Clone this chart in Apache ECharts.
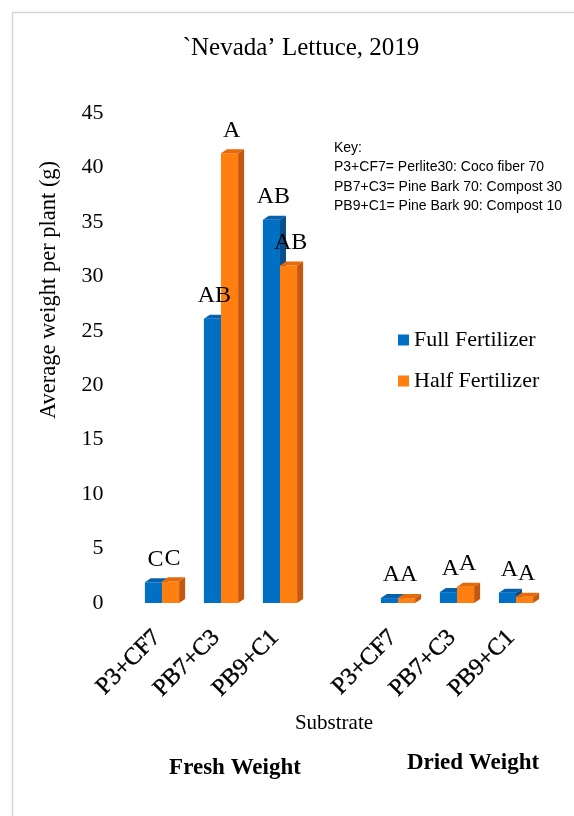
<!DOCTYPE html>
<html>
<head>
<meta charset="utf-8">
<script src="https://cdn.jsdelivr.net/npm/echarts@6/dist/echarts.min.js"></script>
<style>
html,body{margin:0;padding:0;background:#fff;}
#chart{width:574px;height:816px;}
</style>
</head>
<body>
<div id="chart"></div>
<script>
// ---- data ----
const categories = ['P3+CF7', 'PB7+C3', 'PB9+C1', '', 'P3+CF7', 'PB7+C3', 'PB9+C1'];
const fullValues = [1.9, 26.1, 35.2, null, 0.45, 1.0, 0.95];
const halfValues = [2.0, 41.3, 31.0, null, 0.45, 1.5, 0.58];
const fullLetters = ['C', 'AB', 'AB', '', 'A', 'A', 'A'];
const halfLetters = ['C', 'A', 'AB', '', 'A', 'A', 'A'];
const yTicks = [0, 5, 10, 15, 20, 25, 30, 35, 40, 45];
const seriesNames = ['Full Fertilizer', 'Half Fertilizer'];
const keyLines = ['Key:', 'P3+CF7= Perlite30: Coco fiber 70', 'PB7+C3= Pine Bark 70: Compost 30', 'PB9+C1= Pine Bark 90: Compost 10'];

const SERIF = '"Liberation Serif","Times New Roman",serif';
const colors = [
  {front: '#0070C4', top: '#0560AE', side: '#0A4F8C'},
  {front: '#FF7F10', top: '#E8690A', side: '#C45810'}
];
const DX = 6, DY = 4;

function barGeom(si, api) {
  const cat = api.value(0), val = api.value(1);
  const base = api.coord([cat, 0]);
  const top = api.coord([cat, val]);
  const band = api.size([1, 0])[0];
  const w = band * 0.29;
  const x0 = si === 0 ? base[0] - w : base[0];
  return {cat: cat, x0: x0, w: w, yt: top[1], yb: base[1]};
}

function makeBars(si) {
  return function (params, api) {
    const g = barGeom(si, api);
    const c = colors[si];
    const x0 = g.x0, w = g.w, yt = g.yt, yb = g.yb;
    return {
      type: 'group',
      children: [
        {type: 'rect', shape: {x: x0, y: yt, width: w, height: yb - yt}, style: {fill: c.front}},
        {type: 'polygon', shape: {points: [[x0, yt], [x0 + DX, yt - DY], [x0 + w + DX, yt - DY], [x0 + w, yt]]}, style: {fill: c.top}},
        {type: 'polygon', shape: {points: [[x0 + w, yt], [x0 + w + DX, yt - DY], [x0 + w + DX, yb - DY], [x0 + w, yb]]}, style: {fill: c.side}}
      ]
    };
  };
}

function makeLabels(si, letters) {
  return function (params, api) {
    const g = barGeom(si, api);
    return {
      type: 'text', x: g.x0 + g.w / 2 + 2, y: g.yt - 23,
      style: {text: letters[g.cat], font: '24px ' + SERIF, fill: '#000', align: 'center', verticalAlign: 'middle'}
    };
  };
}

function toData(vals) {
  const d = [];
  vals.forEach((v, i) => { if (v != null) d.push([i, v]); });
  return d;
}

const chart = echarts.init(document.getElementById('chart'), null, {renderer: 'canvas'});
chart.setOption({
  animation: false,
  backgroundColor: '#fff',
  grid: {left: 132.5, right: 28.5, top: 113, bottom: 213},
  xAxis: {
    type: 'category',
    data: categories,
    axisLine: {show: false},
    axisTick: {show: false},
    axisLabel: {interval: 0, rotate: 45, margin: 26, padding: [0, 7, 0, 0], fontFamily: SERIF, fontSize: 24, color: '#000',
      textBorderColor: '#000', textBorderWidth: 0.4}
  },
  yAxis: {
    type: 'value',
    min: 0, max: 45, interval: 5,
    splitLine: {show: false},
    axisLine: {show: false},
    axisTick: {show: false},
    axisLabel: {margin: 29, fontFamily: SERIF, fontSize: 22, color: '#000',
      formatter: v => (yTicks.indexOf(v) >= 0 ? String(v) : '')}
  },
  legend: {
    orient: 'vertical',
    left: 398, top: 329, padding: 0,
    icon: 'rect', itemWidth: 11, itemHeight: 11, itemGap: 19,
    textStyle: {fontFamily: SERIF, fontSize: 22, lineHeight: 22, color: '#000'},
    data: [
      {name: seriesNames[0], itemStyle: {color: colors[0].front}},
      {name: seriesNames[1], itemStyle: {color: colors[1].front}}
    ]
  },
  series: [
    {type: 'custom', name: seriesNames[0], renderItem: makeBars(0), data: toData(fullValues), itemStyle: {color: colors[0].front}, z: 2},
    {type: 'custom', name: seriesNames[1], renderItem: makeBars(1), data: toData(halfValues), itemStyle: {color: colors[1].front}, z: 3},
    {type: 'custom', name: 'fullLetters', renderItem: makeLabels(0, fullLetters), data: toData(fullValues), z: 6, silent: true},
    {type: 'custom', name: 'halfLetters', renderItem: makeLabels(1, halfLetters), data: toData(halfValues), z: 6, silent: true}
  ],
  graphic: [
    {type: 'polyline', shape: {points: [[12.5, 900], [12.5, 12.5], [700, 12.5]]}, style: {stroke: '#d6d6d6', lineWidth: 1.6, fill: null}, silent: true},
    {type: 'text', x: 301, y: 48, style: {text: '`Nevada\u2019 Lettuce, 2019', font: '25px ' + SERIF, fill: '#000', align: 'center', verticalAlign: 'middle'}},
    {type: 'text', x: 49, y: 290, rotation: Math.PI / 2, style: {text: 'Average weight per plant (g)', font: '22.5px ' + SERIF, fill: '#000', align: 'center', verticalAlign: 'middle'}},
    {type: 'text', x: 334, y: 138, style: {text: keyLines.join('\n'), font: '14px "Liberation Sans", Arial, sans-serif', lineHeight: 19.6, fill: '#000', align: 'left', verticalAlign: 'top'}},
    {type: 'text', x: 334, y: 723, style: {text: 'Substrate', font: '21px ' + SERIF, fill: '#000', align: 'center', verticalAlign: 'middle'}},
    {type: 'text', x: 235, y: 768, style: {text: 'Fresh Weight', font: 'bold 23px ' + SERIF, fill: '#000', align: 'center', verticalAlign: 'middle'}},
    {type: 'text', x: 473, y: 763, style: {text: 'Dried Weight', font: 'bold 23px ' + SERIF, fill: '#000', align: 'center', verticalAlign: 'middle'}}
  ]
});
</script>
</body>
</html>
